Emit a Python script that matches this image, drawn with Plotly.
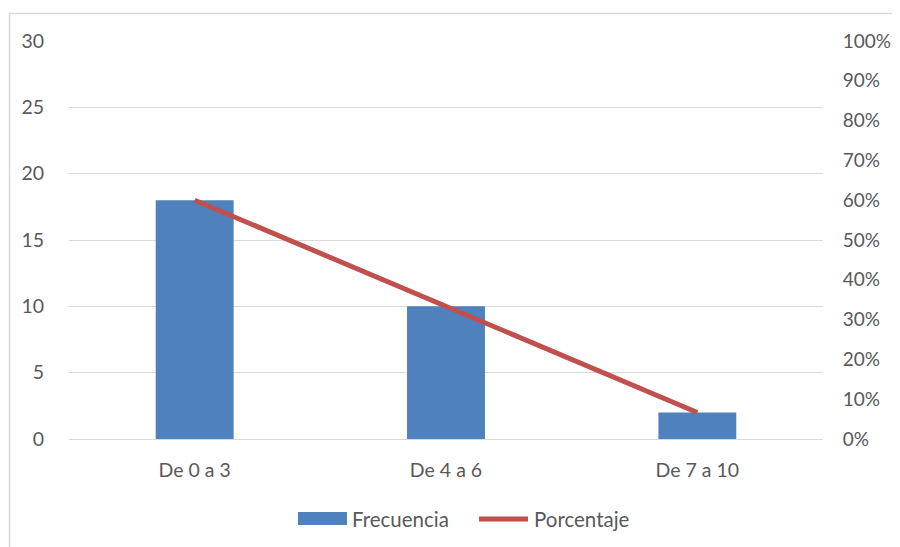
import plotly.graph_objects as go

categories = ["De 0 a 3", "De 4 a 6", "De 7 a 10"]
frecuencia = [18, 10, 2]
porcentaje = [0.60, 0.3333, 0.0667]
left_ticks = [0, 5, 10, 15, 20, 25, 30]
right_ticks = [0, 0.1, 0.2, 0.3, 0.4, 0.5, 0.6, 0.7, 0.8, 0.9, 1.0]
legend_names = ["Frecuencia", "Porcentaje"]

FONT = "Lato, 'Open Sans', sans-serif"
GREY = "#595959"
BLUE = "#4f81bd"
RED = "#c0504d"
FS = 19.5

fig = go.Figure()
fig.add_trace(go.Bar(x=categories, y=frecuencia, name=legend_names[0],
                     marker=dict(color=BLUE, line=dict(width=0)),
                     width=0.31, yaxis="y", showlegend=False))
fig.add_trace(go.Scatter(x=categories, y=porcentaje, name=legend_names[1],
                         mode="lines", line=dict(color=RED, width=5),
                         yaxis="y2", showlegend=False))

# page body has an 8px margin; figure coordinates = window coordinates - 8
OFF = 8
W, H = 884, 539
l, r, t, b = 61, 69, 33, 108
pw, ph = W - l - r, H - t - b

def px_x(px):
    return (px - OFF - l) / pw

def px_y(py):
    return (H - b - (py - OFF)) / ph

shapes = [dict(type="rect", xref="paper", yref="paper",
               x0=px_x(9.5), x1=px_x(920), y0=px_y(580), y1=px_y(13.5),
               line=dict(color="#d9d9d9", width=1.5), fillcolor="rgba(0,0,0,0)",
               layer="below")]
# legend symbols
shapes.append(dict(type="rect", xref="paper", yref="paper",
                   x0=px_x(298), x1=px_x(347), y0=px_y(525), y1=px_y(512),
                   fillcolor=BLUE, line=dict(width=0)))
shapes.append(dict(type="line", xref="paper", yref="paper",
                   x0=px_x(479), x1=px_x(528), y0=px_y(519), y1=px_y(519),
                   line=dict(color=RED, width=5)))
annotations = [
    dict(text=legend_names[0], xref="paper", yref="paper", x=px_x(350), y=px_y(519),
         xanchor="left", yanchor="middle", showarrow=False,
         font=dict(family=FONT, size=FS + 1, color=GREY)),
    dict(text=legend_names[1], xref="paper", yref="paper", x=px_x(532), y=px_y(519),
         xanchor="left", yanchor="middle", showarrow=False,
         font=dict(family=FONT, size=FS + 1, color=GREY)),
]

fig.update_layout(
    width=W, height=H,
    margin=dict(l=l, r=r, t=t, b=b, autoexpand=False),
    paper_bgcolor="white", plot_bgcolor="white",
    font=dict(family=FONT, size=FS, color=GREY),
    showlegend=False,
    xaxis=dict(showgrid=False, showline=False, ticks="outside", ticklen=14,
               tickcolor="rgba(0,0,0,0)", zeroline=False, automargin=False,
               tickfont=dict(size=FS, color=GREY)),
    yaxis=dict(range=[0, 30], tickvals=left_ticks, showgrid=True, gridcolor="#d9d9d9",
               gridwidth=1, zeroline=True, zerolinecolor="#d9d9d9", zerolinewidth=1,
               showline=False, ticks="outside", ticklen=20, tickcolor="rgba(0,0,0,0)",
               automargin=False, tickfont=dict(size=FS, color=GREY)),
    yaxis2=dict(range=[0, 1], tickvals=right_ticks, tickformat=".0%", overlaying="y",
                side="right", showgrid=False, zeroline=False, showline=False,
                ticks="outside", ticklen=15, tickcolor="rgba(0,0,0,0)",
                automargin=False, tickfont=dict(size=FS - 0.5, color=GREY)),
    shapes=shapes,
    annotations=annotations,
)

fig.write_html("out.html")
